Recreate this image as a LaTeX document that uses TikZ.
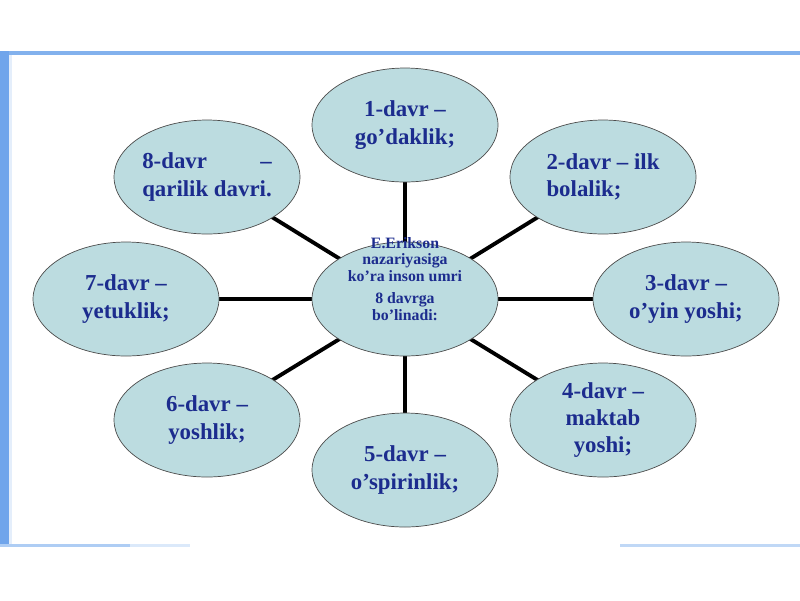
\documentclass[tikz,border=0pt]{standalone}
\usepackage{fontspec}
\setmainfont{Liberation Serif}
\usetikzlibrary{shapes.geometric,backgrounds}
\definecolor{davrfill}{HTML}{BCDCE0}
\definecolor{davrtext}{HTML}{1C2C8E}
\definecolor{slideblue}{HTML}{4C8FE6}
\tikzset{
  davr/.style={ellipse, draw=black!70, thin, fill=davrfill, text=davrtext,
    font=\bfseries\fontsize{13}{15.5}\selectfont, align=center,
    minimum width=3.72cm, minimum height=2.28cm, inner sep=0pt},
  spoke/.style={line width=2.2pt, black}
}

\begin{document}
\begin{tikzpicture}[x=0.02cm, y=-0.02cm]
		%%%%% START %%%%%
		\useasboundingbox (0, 0) rectangle (800, 600);
		
		% slide frame
		\fill[slideblue!70] (0, 51) rectangle (800, 55);
		\fill[slideblue!80] (0, 51) rectangle (9, 547);
		\fill[slideblue!15] (9, 55) rectangle (12, 545);
		\fill[slideblue!45] (0, 544) rectangle (130, 547);
		\fill[slideblue!20] (130, 544) rectangle (190, 547);
		\fill[slideblue!35] (620, 544) rectangle (800, 547);
		
		\node[davr, font=\bfseries\fontsize{9}{9.6}\selectfont] (erikson) at (405, 299)
		  {\raisebox{10pt}[22pt][18pt]{\begin{tabular}{@{}c@{}}E.Erikson\\nazariyasiga\\ko'ra inson umri\\[3pt]8 davrga\\bo'linadi:\end{tabular}}};
		
		\node[davr] (d1) at (405, 125) {1-davr --\\go'daklik;};
		\node[davr, align=left] (d2) at (603, 177) {2-davr -- ilk\\bolalik;};
		\node[davr] (d3) at (686, 299) {3-davr --\\o'yin yoshi;};
		\node[davr] (d4) at (603, 420) {4-davr --\\maktab\\yoshi;};
		\node[davr] (d5) at (405, 470) {5-davr --\\o'spirinlik;};
		\node[davr] (d6) at (207, 420) {6-davr --\\yoshlik;};
		\node[davr] (d7) at (126, 299) {7-davr --\\yetuklik;};
		\node[davr] (d8) at (207, 177)
		  {\begin{tabular}{@{}l@{}}8-davr\hfill--\\qarilik davri.\end{tabular}};
		
		% spokes behind the ellipses
		\begin{scope}[on background layer]
		  \foreach \n in {1,...,8}
		    \draw[spoke] (erikson.center) -- (d\n.center);
		\end{scope}
		%%%%% END %%%%%
	\end{tikzpicture}
\end{document}
